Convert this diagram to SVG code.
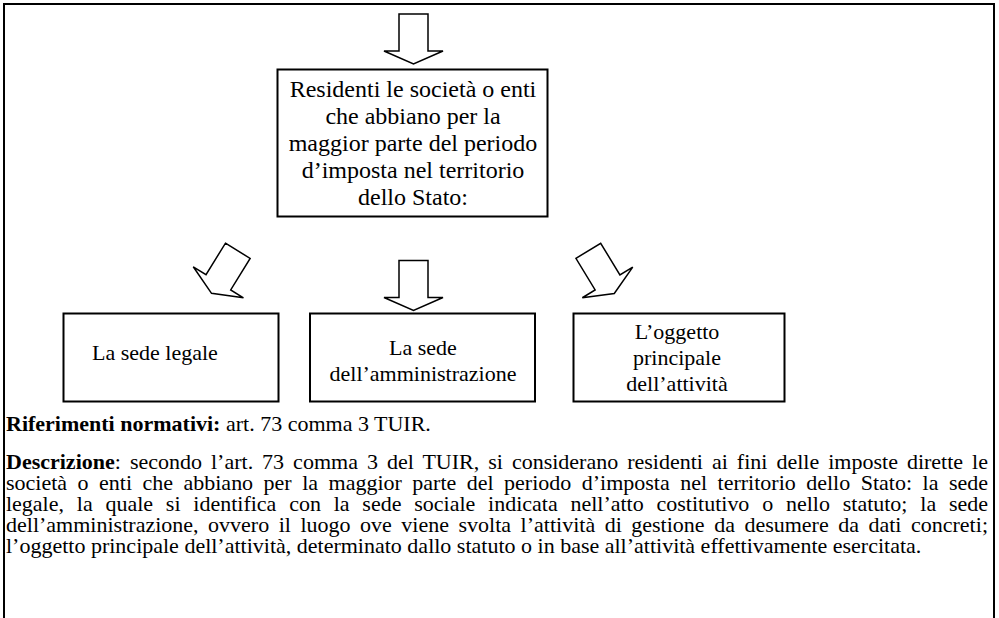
<svg xmlns="http://www.w3.org/2000/svg" width="999" height="618" viewBox="0 0 999 618">
  <defs>
    <style>
      .frame { fill: none; stroke: #000; stroke-width: 2; }
      .box { fill: #fff; stroke: #000; stroke-width: 2; }
      .blk { fill: #fff; stroke: #000; stroke-width: 1.5; stroke-linejoin: miter; }
      .t24 { font-family: "Liberation Serif", "Times New Roman", serif; font-size: 24px; fill: #000; text-anchor: middle; }
      .t22 { font-family: "Liberation Serif", "Times New Roman", serif; font-size: 22px; fill: #000; }
      .mid { text-anchor: middle; }
      .p { font-family: "Liberation Serif", "Times New Roman", serif; font-size: 22px; fill: #000; }
      .b { font-weight: bold; }
    </style>
    <!-- block arrow pointing down, origin at top-centre of the shaft -->
    <path id="blockArrow" d="M -14.5 0 H 14.5 V 37 H 29.5 L 0 50 L -29.5 37 H -14.5 Z"/>
  </defs>

  <rect width="999" height="618" fill="#fff"/>
  <!-- outer frame (open at the bottom edge of the page) -->
  <rect class="frame" x="4" y="4" width="990" height="700"/>

  <g id="connectors">
    <use href="#blockArrow" class="blk" transform="translate(413.5,14)"/>
    <use href="#blockArrow" class="blk" transform="translate(237.8,250.8) rotate(31.7)"/>
    <use href="#blockArrow" class="blk" transform="translate(413.5,260.5)"/>
    <use href="#blockArrow" class="blk" transform="translate(588.3,250.8) rotate(-31.3)"/>
  </g>

  <g id="node-residenti">
    <rect class="box" x="277.5" y="69.5" width="270" height="147"/>
    <text class="t24" x="413" y="97">Residenti le società o enti</text>
    <text class="t24" x="413" y="124">che abbiano per la</text>
    <text class="t24" x="413" y="151">maggior parte del periodo</text>
    <text class="t24" x="413" y="178">d’imposta nel territorio</text>
    <text class="t24" x="413" y="205">dello Stato:</text>
  </g>

  <g id="node-sede-legale">
    <rect class="box" x="63.5" y="313.5" width="215" height="88"/>
    <text class="t22" x="92" y="360">La sede legale</text>
  </g>

  <g id="node-sede-amministrazione">
    <rect class="box" x="310" y="313.5" width="225" height="88"/>
    <text class="t22 mid" x="423" y="355">La sede</text>
    <text class="t22 mid" x="423" y="381">dell’amministrazione</text>
  </g>

  <g id="node-oggetto">
    <rect class="box" x="573.5" y="313.5" width="211" height="88"/>
    <text class="t22 mid" x="677" y="339">L’oggetto</text>
    <text class="t22 mid" x="677" y="365">principale</text>
    <text class="t22 mid" x="677" y="391">dell’attività</text>
  </g>

  <g id="notes">
    <text class="p" x="6" y="431"><tspan class="b">Riferimenti normativi:</tspan> art. 73 comma 3 TUIR.</text>
    <text class="p" x="6" y="469" word-spacing="3.5" textLength="982" lengthAdjust="spacing"><tspan class="b">Descrizione</tspan>: secondo l’art. 73 comma 3 del TUIR, si considerano residenti ai fini delle imposte dirette le</text>
    <text class="p" x="6" y="490" word-spacing="5" textLength="982" lengthAdjust="spacing">società o enti che abbiano per la maggior parte del periodo d’imposta nel territorio dello Stato: la sede</text>
    <text class="p" x="6" y="511" word-spacing="7.3" textLength="982" lengthAdjust="spacing">legale, la quale si identifica con la sede sociale indicata nell’atto costitutivo o nello statuto; la sede</text>
    <text class="p" x="6" y="532" word-spacing="4" textLength="982" lengthAdjust="spacing">dell’amministrazione, ovvero il luogo ove viene svolta l’attività di gestione da desumere da dati concreti;</text>
    <text class="p" x="6" y="553">l’oggetto principale dell’attività, determinato dallo statuto o in base all’attività effettivamente esercitata.</text>
  </g>
</svg>
